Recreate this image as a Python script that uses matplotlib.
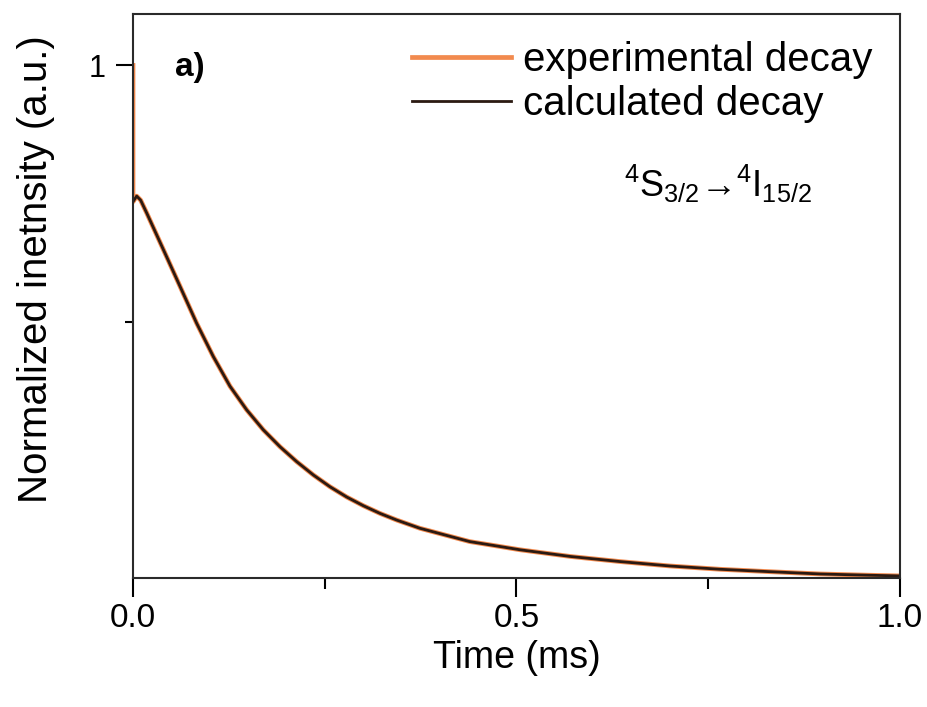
import matplotlib
matplotlib.use("Agg")
import matplotlib.pyplot as plt
from matplotlib.ticker import FixedLocator

plt.rcParams['font.family'] = ['Liberation Sans', 'DejaVu Sans']
plt.rcParams['mathtext.default'] = 'regular'

# decay readings, time in ms, intensity normalized to the t=0 spike
t_exp = [0.0, 0.0, 0.0048, 0.0100, 0.0179, 0.0395, 0.0613, 0.0830, 0.1047,
         0.1265, 0.1482, 0.1699, 0.1917, 0.2134, 0.2351, 0.2568, 0.2786,
         0.3003, 0.3220, 0.3438, 0.374, 0.439, 0.474, 0.5046, 0.570, 0.635,
         0.700, 0.765, 0.830, 0.896, 0.961, 1.0]
i_exp = [1.0, 0.734, 0.745, 0.737, 0.712, 0.641, 0.569, 0.497, 0.432,
         0.374, 0.328, 0.289, 0.256, 0.227, 0.201, 0.178, 0.158,
         0.141, 0.126, 0.113, 0.097, 0.071, 0.0625, 0.055, 0.042, 0.032,
         0.0234, 0.017, 0.0123, 0.0078, 0.0053, 0.004]

t_calc = [0.0, 0.0048, 0.0100, 0.0179, 0.0395, 0.0613, 0.0830, 0.1047,
          0.1265, 0.1482, 0.1699, 0.1917, 0.2134, 0.2351, 0.2568, 0.2786,
          0.3003, 0.3220, 0.3438, 0.374, 0.439, 0.474, 0.5046, 0.570, 0.635,
          0.700, 0.765, 0.830, 0.896, 0.961, 1.0]
i_calc = [0.734, 0.745, 0.737, 0.712, 0.641, 0.569, 0.497, 0.432,
          0.374, 0.328, 0.289, 0.256, 0.227, 0.201, 0.178, 0.158,
          0.141, 0.126, 0.113, 0.097, 0.071, 0.0625, 0.055, 0.042, 0.032,
          0.0234, 0.017, 0.0123, 0.0078, 0.0053, 0.004]

x_ticks = [0.0, 0.5, 1.0]
x_ticklabels = ['0.0', '0.5', '1.0']

fig = plt.figure(figsize=(9.28, 7.07), dpi=100)
ax = fig.add_axes([0.1433, 0.1825, 0.8265, 0.7975])

ax.plot(t_exp, i_exp, color='#f28a4e', lw=3.4, label='experimental decay', solid_joinstyle='round')
ax.plot(t_calc, i_calc, color='#2b1a12', lw=2.0, label='calculated decay', solid_joinstyle='round')

ax.set_xlim(0, 1.0)
ax.set_ylim(0, 1.10)
ax.set_xticks(x_ticks)
ax.set_xticklabels(x_ticklabels)
ax.xaxis.set_minor_locator(FixedLocator([0.25, 0.75]))
ax.set_yticks([1])
ax.set_yticklabels(['1'])
ax.yaxis.set_minor_locator(FixedLocator([0.5]))

for s in ax.spines.values():
    s.set_linewidth(1.5)
    s.set_color('#2a2a2a')
ax.tick_params(axis='x', which='major', direction='out', length=14, width=1.5, labelsize=24, pad=4)
ax.tick_params(axis='x', which='minor', direction='out', length=8, width=1.5)
ax.tick_params(axis='y', which='major', direction='out', length=12, width=1.5, labelsize=22, pad=8)
ax.tick_params(axis='y', which='minor', direction='out', length=6, width=1.5)

ax.set_xlabel('Time (ms)', fontsize=27, labelpad=4)
ax.set_ylabel('Normalized inetnsity (a.u.)', fontsize=29)
ax.yaxis.set_label_coords(-0.102, 0.548)

ax.text(0.055, 0.890, 'a)', transform=ax.transAxes, fontsize=24, fontweight='bold', va='baseline')
ax.text(0.640, 0.6755, '$^4$S$_{3/2}$→$^4$I$_{15/2}$', transform=ax.transAxes,
        fontsize=26, va='baseline')

ax.legend(loc='upper right', bbox_to_anchor=(0.9635, 0.953), frameon=False, fontsize=29,
          handlelength=2.45, handletextpad=0.3, labelspacing=0.15, borderpad=0, borderaxespad=0)

fig.savefig('out.png', dpi=100)
